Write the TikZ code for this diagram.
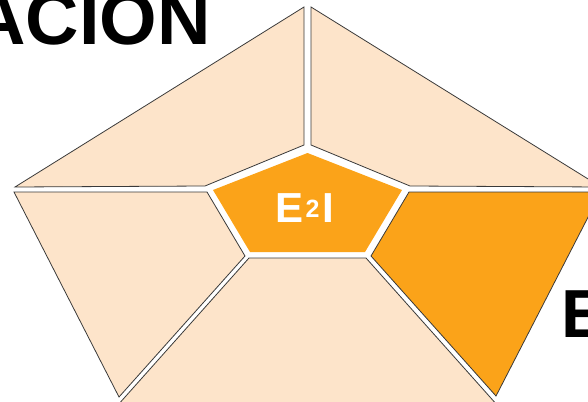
\documentclass[tikz,border=0pt]{standalone}
\usepackage{fontspec}
\setmainfont{Liberation Sans}
\definecolor{peach}{HTML}{FDE4CA}
\definecolor{hotorange}{HTML}{FBA319}
\definecolor{edgegray}{HTML}{3A3A3A}

\begin{document}
\begin{tikzpicture}[x=1pt,y=-1pt,
  piece/.style={fill=peach,draw=edgegray,line width=0.8pt,line join=miter},
  hotpiece/.style={piece,fill=hotorange}]
  \useasboundingbox (0,0) rectangle (588,401);
  \clip (0,0) rectangle (588,401);

  % Upper pieces
  \draw[piece] (15,187) -- (304,7) -- (304,145) -- (205,186) -- cycle;
  \draw[piece] (311,7) -- (601,187) -- (410,186) -- (311,145) -- cycle;

  % Side pieces
  \draw[piece] (14,192) -- (207,192) -- (245,256) -- (119,397) -- cycle;
  \draw[hotpiece] (409,192) -- (601,192) -- (496,396) -- (371,256) -- cycle;

  % Bottom piece
  \draw[piece] (249,258) -- (366,258) -- (506,415) -- (109,415) -- cycle;

  % Centre pentagon
  \fill[hotorange] (307.5,153) -- (402,190) -- (365,252) -- (250,252) -- (213,190) -- cycle;
  \node[inner sep=0pt,anchor=base,text=white,
    font=\bfseries\fontsize{42}{50}\selectfont] (core) at (305,222)
    {E\hspace{2pt}\raisebox{5pt}{\fontsize{25}{28}\selectfont 2}\hspace{3pt}I};

  % Titles
  \node[inner sep=0pt,anchor=base east,font=\bfseries\fontsize{74}{80}\selectfont]
    (titleleft) at (211,45) {ACION};
  \node[inner sep=0pt,anchor=base west,font=\bfseries\fontsize{68}{76}\selectfont]
    (titleright) at (561,337) {E};
\end{tikzpicture}
\end{document}
